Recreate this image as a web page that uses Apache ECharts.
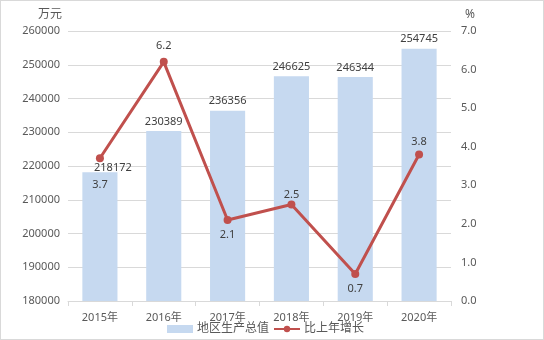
<!DOCTYPE html>
<html>
<head>
<meta charset="utf-8">
<script src="https://cdn.jsdelivr.net/npm/echarts@6/dist/echarts.min.js"></script>
<style>
  html, body { margin: 0; padding: 0; background: #fff; }
  #chart { width: 544px; height: 340px; box-sizing: border-box; border: 1px solid #d9d9d9; }
</style>
</head>
<body>
<div id="chart"></div>
<script>
// Regional GDP (万元) and year-on-year growth (%)
const years = ['2015年', '2016年', '2017年', '2018年', '2019年', '2020年'];
const gdp = [218172, 230389, 236356, 246625, 246344, 254745];
const growth = [3.7, 6.2, 2.1, 2.5, 0.7, 3.8];

// label placement for the growth line (position, gap from marker)
const growthLabelPos = ['bottom', 'top', 'bottom', 'top', 'bottom', 'top'];
const growthLabelGap = [17, 6, 5, 0, 5, 3];

const textColor = '#595959';
const fontFamily = '"Noto Sans", "Noto Sans CJK SC", sans-serif';

const chart = echarts.init(document.getElementById('chart'), null, { renderer: 'canvas' });

const gdpData = gdp.map((v, i) => {
  const item = { value: v };
  // first label sits beside the growth marker
  if (i === 0) item.label = { offset: [13, 5] };
  return item;
});

const growthData = growth.map((v, i) => ({
  value: v,
  label: { position: growthLabelPos[i], distance: growthLabelGap[i] }
}));

chart.setOption({
  animation: false,
  textStyle: { fontFamily: fontFamily, color: textColor },
  grid: { left: 67, right: 92, top: 30, bottom: 38, containLabel: false },
  legend: {
    top: 317,
    left: 161,
    itemGap: 4,
    itemWidth: 26,
    itemHeight: 8,
    textStyle: { fontSize: 12, color: textColor, fontFamily: fontFamily, padding: [0, 0, 0, -1] },
    data: [
      { name: '地区生产总值', icon: 'rect' },
      { name: '比上年增长' }
    ]
  },
  xAxis: {
    type: 'category',
    data: years,
    boundaryGap: true,
    axisLine: { lineStyle: { color: '#d9d9d9' } },
    axisTick: { show: true, length: 5, lineStyle: { color: '#d9d9d9' } },
    axisLabel: { color: textColor, fontSize: 11, margin: 11 }
  },
  yAxis: [
    {
      type: 'value',
      name: '万元',
      nameGap: 10,
      nameTextStyle: { color: textColor, fontSize: 12, align: 'right', padding: [0, 6, 0, 0] },
      min: 180000,
      max: 260000,
      interval: 10000,
      axisLine: { show: false },
      axisTick: { show: false },
      axisLabel: { color: textColor, fontSize: 11, margin: 8, formatter: v => String(v) },
      splitLine: { lineStyle: { color: '#d9d9d9' } }
    },
    {
      type: 'value',
      name: '%',
      nameGap: 10,
      nameTextStyle: { color: textColor, fontSize: 12, align: 'left', padding: [0, 0, 0, 14] },
      min: 0,
      max: 7,
      interval: 1,
      axisLine: { show: false },
      axisTick: { show: false },
      axisLabel: { color: textColor, fontSize: 11, margin: 10, formatter: v => v.toFixed(1) },
      splitLine: { show: false }
    }
  ],
  series: [
    {
      name: '地区生产总值',
      type: 'bar',
      yAxisIndex: 0,
      barWidth: '55%',
      data: gdpData,
      itemStyle: { color: '#c6d9f0' },
      label: { show: true, position: 'top', distance: 4, color: '#404040', fontSize: 11 }
    },
    {
      name: '比上年增长',
      type: 'line',
      yAxisIndex: 1,
      data: growthData,
      symbol: 'circle',
      symbolSize: 8,
      lineStyle: { color: '#c0504d', width: 3 },
      itemStyle: { color: '#c0504d' },
      label: {
        show: true,
        color: '#404040',
        fontSize: 11,
        formatter: p => p.value.toFixed(1)
      }
    }
  ]
});
</script>
</body>
</html>
